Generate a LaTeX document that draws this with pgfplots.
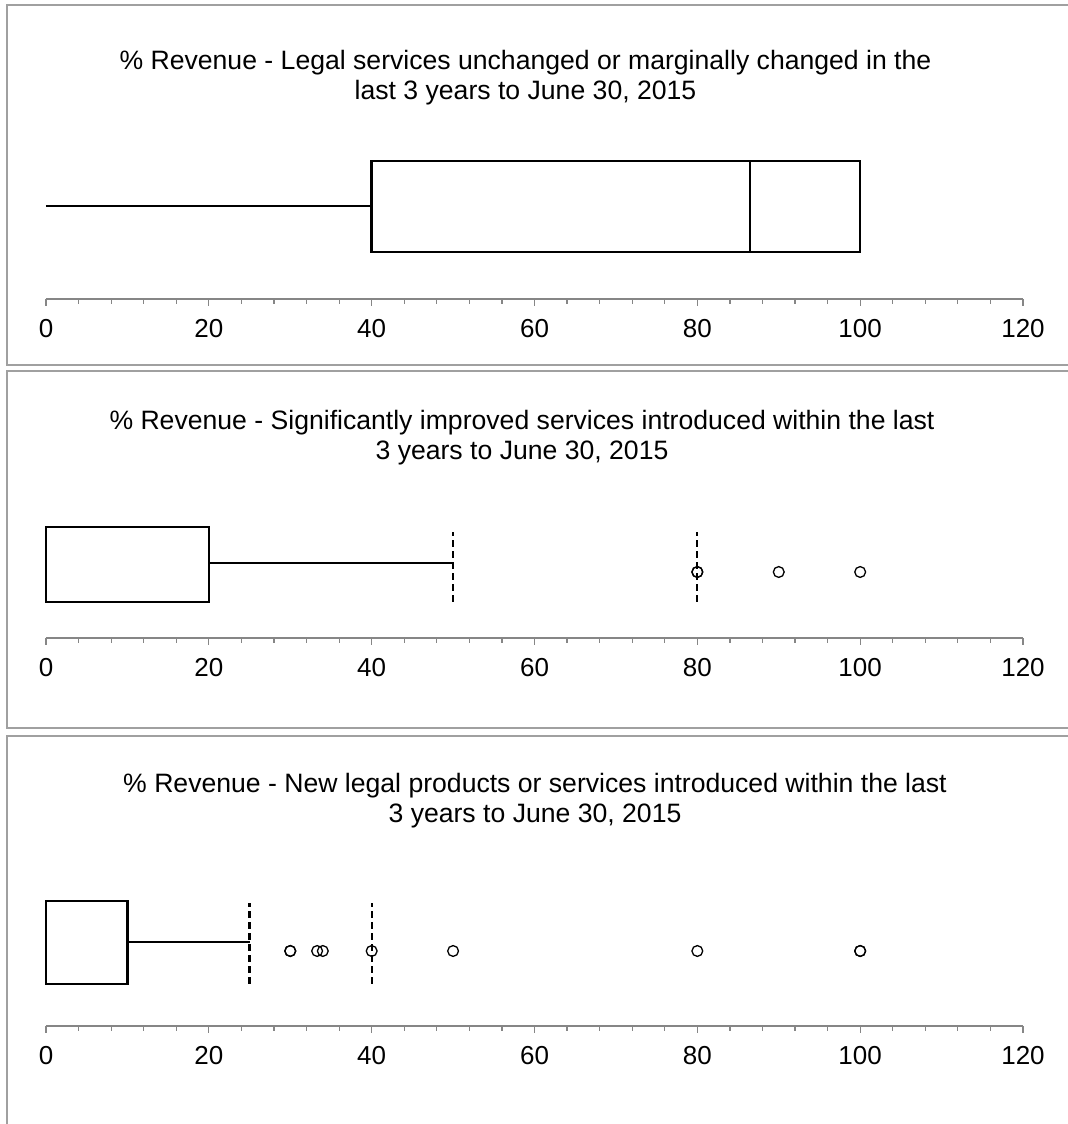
\documentclass[border=0pt]{standalone}
\usepackage{pgfplots}
\pgfplotsset{compat=1.18}
\usepackage{fontspec}
\setmainfont{Liberation Sans}
\definecolor{framegray}{HTML}{A0A0A0}
\definecolor{axgray}{HTML}{868686}
\pgfplotsset{
  panel/.style={
    scale only axis, width=488.5pt, height=75pt,
    anchor=south west,
    xmin=0, xmax=120, ymin=0, ymax=150,
    axis x line=bottom, hide y axis,
    x axis line style={-, draw=axgray, line width=0.6pt},
    xtick={0,20,...,120}, minor x tick num=4,
    tick align=outside, major tick length=3.5pt, minor tick length=2.5pt,
    every tick/.style={draw=axgray, line width=0.6pt},
    minor tick style={draw=axgray, line width=0.6pt},
    /pgf/number format/assume math mode=true,
    xticklabel style={font=\fontsize{13}{15}\selectfont, yshift=-3pt},
    clip=false,
  },
  boxline/.style={black, line width=1.2pt, no markers, line join=miter},
  dashline/.style={black, line width=1.1pt, no markers, dash pattern=on 3.5pt off 2pt},
  outl/.style={only marks, mark=o, mark size=2.7pt, black, mark options={line width=0.65pt}},
}
\begin{document}
\begin{tikzpicture}[x=0.5pt, y=0.5pt]
\useasboundingbox (0,0) rectangle (1068,1124);
% frames
\draw[framegray, line width=1pt] (1080,1119) -- (7,1119) -- (7,759.3) -- (1080,759.3);
\draw[framegray, line width=1pt] (1080,753.3) -- (7,753.3) -- (7,396) -- (1080,396);
\draw[framegray, line width=1pt] (1080,388) -- (7,388) -- (7,-5);
% titles
\node[align=center, font=\fontsize{13.3}{15}\selectfont] at (525.5,1124-78) {\% Revenue - Legal services unchanged or marginally changed in the\\last 3 years to June 30, 2015};
\node[align=center, font=\fontsize{13.3}{15}\selectfont] at (522,1124-438) {\% Revenue - Significantly improved services introduced within the last\\3 years to June 30, 2015};
\node[align=center, font=\fontsize{13.3}{15}\selectfont] at (535,1124-801) {\% Revenue - New legal products or services introduced within the last\\3 years to June 30, 2015};
% panel 1
\begin{axis}[panel, at={(23pt,412.5pt)}]
\addplot[boxline] coordinates {(40,47) (100,47) (100,138) (40,138) (40,47) (100,47)};
\addplot[boxline] coordinates {(86.5,47) (86.5,138)};
\addplot[boxline] coordinates {(0,93) (40,93)};
\end{axis}
% panel 2
\begin{axis}[panel, at={(23pt,243pt)}]
\addplot[boxline] coordinates {(0,36) (20,36) (20,111) (0,111) (0,36) (20,36)};
\addplot[boxline] coordinates {(20,75) (50,75)};
\addplot[dashline] coordinates {(50,36) (50,106)};
\addplot[dashline] coordinates {(80,36) (80,106)};
\addplot[outl] coordinates {(80,66) (80,66) (90,66) (100,66)};
\end{axis}
% panel 3
\begin{axis}[panel, at={(23pt,49pt)}]
\addplot[boxline] coordinates {(0,42) (10,42) (10,125) (0,125) (0,42) (10,42)};
\addplot[boxline] coordinates {(10,84) (25,84)};
\addplot[dashline] coordinates {(25,42) (25,123)};
\addplot[dashline] coordinates {(40,42) (40,123)};
\addplot[outl] coordinates {(30,75) (30,75) (33.3,75) (34,75) (40,75) (50,75) (80,75) (100,75) (100,75)};
\end{axis}
\end{tikzpicture}
\end{document}
